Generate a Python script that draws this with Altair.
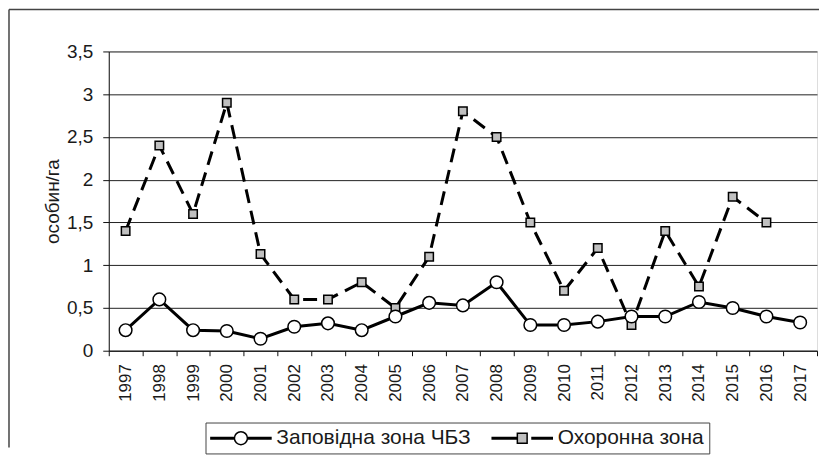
import altair as alt
import pandas as pd

years = [str(y) for y in range(1997, 2018)]
zapovidna = [0.24, 0.6, 0.24, 0.23, 0.14, 0.28, 0.32, 0.24, 0.4, 0.56, 0.53,
             0.8, 0.3, 0.3, 0.34, 0.4, 0.4, 0.57, 0.5, 0.4, 0.33]
okhoronna = [1.4, 2.4, 1.6, 2.9, 1.13, 0.6, 0.6, 0.8, 0.5, 1.1, 2.8,
             2.5, 1.5, 0.7, 1.2, 0.3, 1.4, 0.75, 1.8, 1.5, None]
series_names = ["Заповідна зона ЧБЗ", "Охоронна зона"]
y_ticks = [0, 0.5, 1, 1.5, 2, 2.5, 3, 3.5]

rows = []
for name, vals in zip(series_names, [zapovidna, okhoronna]):
    for yr, v in zip(years, vals):
        if v is not None:
            rows.append({"year": yr, "series": name, "value": v})
df = pd.DataFrame(rows)

FONT = "Liberation Sans"
TXT = "#1a1a1a"

X = alt.X("year:O", sort=years,
          scale=alt.Scale(type="band", paddingInner=0, paddingOuter=0, domain=years),
          axis=alt.Axis(title=None, labelAngle=-90, tickBand="extent", tickSize=5,
                        labelPadding=8, labelFontSize=17, labelFont=FONT, labelColor=TXT,
                        domainColor="#111", tickColor="#111", grid=False))
Y = alt.Y("value:Q", scale=alt.Scale(domain=[0, 3.5], nice=False),
          axis=alt.Axis(title="особин/га", values=y_ticks,
                        labelExpr="replace(format(datum.value, '~g'), '.', ',')",
                        labelFontSize=19, labelFont=FONT, labelColor=TXT, labelPadding=10,
                        tickSize=6, tickColor="#111", domainColor="#111",
                        titleFont=FONT, titleFontSize=19, titleFontWeight="normal",
                        titleColor=TXT, titlePadding=4,
                        grid=True, gridColor="#222", gridWidth=1))

base = alt.Chart(df)
okh = base.transform_filter(alt.datum.series == series_names[1])
zap = base.transform_filter(alt.datum.series == series_names[0])

okh_line = okh.mark_line(color="black", strokeWidth=3, strokeDash=[14, 8]).encode(x=X, y=Y)
okh_pts = okh.mark_point(shape="square", filled=True, fill="#c0c0c0", stroke="black",
                         strokeWidth=1.5, size=72, opacity=1).encode(x=X, y=Y)
zap_line = zap.mark_line(color="black", strokeWidth=3).encode(x=X, y=Y)
zap_pts = zap.mark_point(shape="circle", filled=True, fill="white", stroke="black",
                         strokeWidth=1.5, size=160, opacity=1).encode(x=X, y=Y)

# legend symbols: line + marker (unit coords, 1 unit = 7 px with symbolSize 196)
path_circle = ("M-4.3,-0.107H-0.93V0.107H-4.3Z M0.93,-0.107H4.3V0.107H0.93Z "
               "M0.93,0A0.93,0.93 0 1 1 -0.93,0A0.93,0.93 0 1 1 0.93,0Z")
path_square = ("M-4.3,-0.107H-0.7V0.107H-4.3Z M1.4,-0.107H4.3V0.107H1.4Z "
               "M-0.7,-0.7H0.7V0.7H-0.7Z")

leg_props = dict(title=None, orient="none", legendX=97, legendY=372,
                 direction="horizontal", columns=2, symbolSize=196,
                 symbolStrokeWidth=1.5,
                 symbolOffset=20, labelOffset=25, columnPadding=17,
                 labelFont=FONT, labelFontSize=21, labelColor=TXT, labelLimit=0,
                 padding=5, strokeColor="#444", fillColor="white")

legend_layer = base.mark_point(filled=True, opacity=1, strokeWidth=1.5).encode(
    x=X, y=Y,
    size=alt.value(0),
    shape=alt.Shape("series:N", scale=alt.Scale(domain=series_names, range=[path_circle, path_square]),
                    legend=alt.Legend(**leg_props)),
    fill=alt.Fill("series:N", scale=alt.Scale(domain=series_names, range=["white", "#c0c0c0"]),
                  legend=alt.Legend(**leg_props)),
    stroke=alt.Stroke("series:N", scale=alt.Scale(domain=series_names, range=["black", "black"]),
                      legend=alt.Legend(**leg_props)),
)

one = alt.Data(values=[{"a": 1}])
border_left = alt.Chart(one).mark_rule(color="#444", strokeWidth=1.5).encode(
    x=alt.value(-100), y=alt.value(-42), y2=alt.value(397))
border_top = alt.Chart(one).mark_rule(color="#444", strokeWidth=1.5).encode(
    x=alt.value(-100), x2=alt.value(712), y=alt.value(-42))

chart = alt.layer(okh_line, okh_pts, zap_line, zap_pts, legend_layer, border_left, border_top).properties(
    width=710, height=300, padding=0
).configure_view(stroke="#222", strokeWidth=1).configure_legend(
    strokeColor="#444", fillColor="white", padding=5
).configure(background="white")

chart.save("out.html", embed_options={"renderer": "svg", "actions": False})
